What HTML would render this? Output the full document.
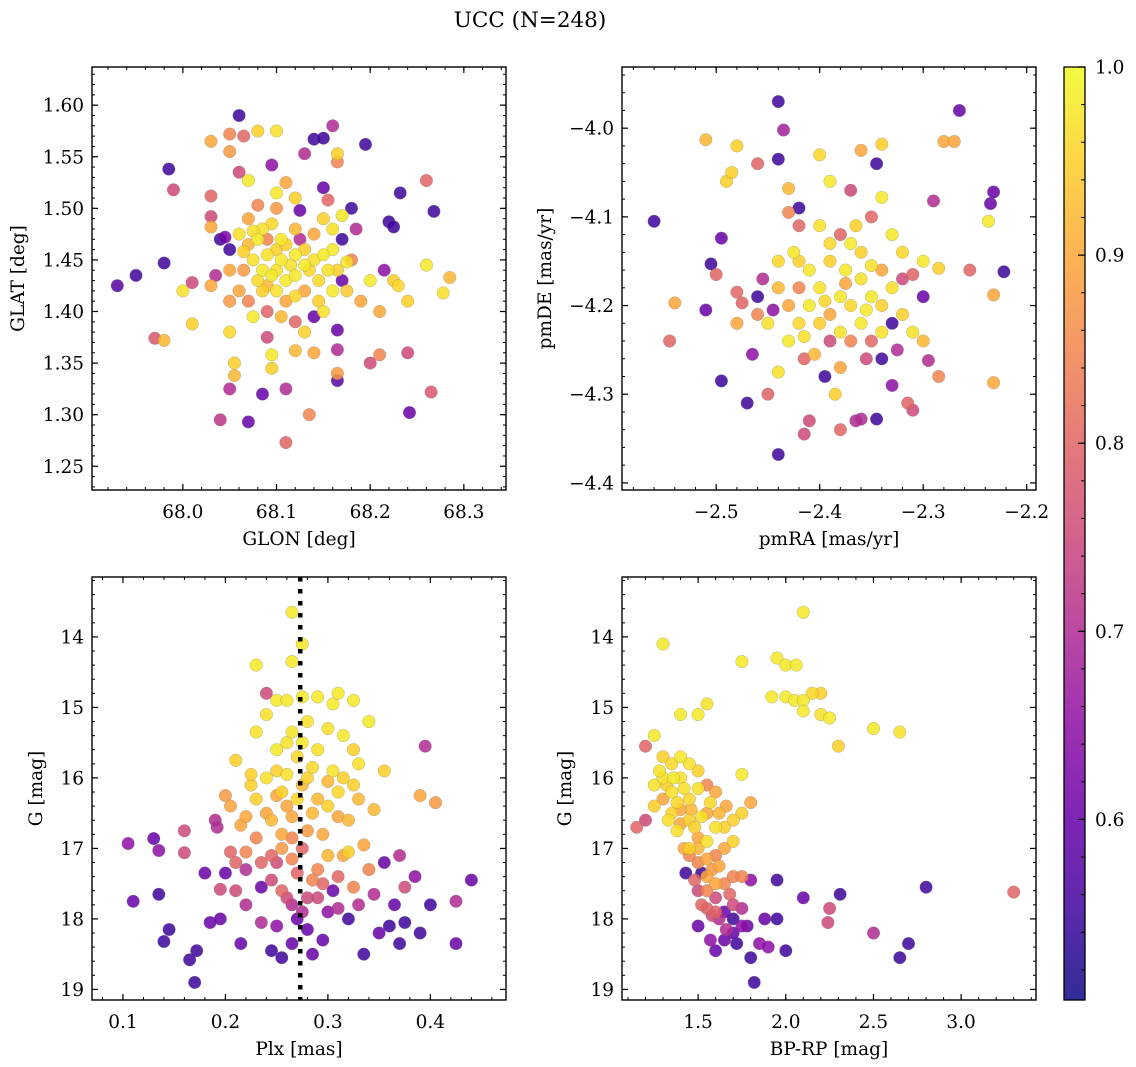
<!DOCTYPE html>
<html><head><meta charset="utf-8">
<style>
html,body{margin:0;padding:0;background:#fff;}
svg{display:block;font-family:"DejaVu Serif","Liberation Serif",serif;}
</style></head>
<body>
<svg id="fig" width="1136" height="1067" viewBox="0 0 1136 1067" xmlns="http://www.w3.org/2000/svg">
<defs>
<linearGradient id="plasma" x1="0" y1="1" x2="0" y2="0">
<stop offset="0" stop-color="#0d0887"/><stop offset="0.1" stop-color="#41049d"/><stop offset="0.2" stop-color="#6a00a8"/><stop offset="0.3" stop-color="#8f0da4"/><stop offset="0.4" stop-color="#b12a90"/><stop offset="0.5" stop-color="#cc4778"/><stop offset="0.6" stop-color="#e16462"/><stop offset="0.7" stop-color="#f2844b"/><stop offset="0.8" stop-color="#fca636"/><stop offset="0.9" stop-color="#fcce25"/><stop offset="1" stop-color="#f0f921"/>
</linearGradient>
</defs>
<text x="530" y="27" font-size="21.5" text-anchor="middle">UCC (N=248)</text>
</svg>
<script>
// ---- data: [x, y, membership probability] ----
const glonGlat = [
[67.93,1.425,0.58],[67.95,1.435,0.55],[67.98,1.447,0.55],[67.985,1.538,0.55],[67.99,1.518,0.75],[68.0,1.42,0.97],[68.01,1.428,0.75],[68.01,1.388,0.95],[67.97,1.374,0.78],[67.98,1.372,0.92],
[68.03,1.565,0.9],[68.03,1.512,0.8],[68.03,1.492,0.75],[68.03,1.482,0.9],[68.03,1.425,0.9],[68.035,1.435,0.7],[68.04,1.295,0.72],[68.04,1.47,0.55],[68.045,1.472,0.62],[68.05,1.572,0.85],
[68.05,1.555,0.88],[68.05,1.46,0.55],[68.05,1.44,0.9],[68.05,1.41,0.88],[68.05,1.38,0.96],[68.05,1.325,0.7],[68.055,1.35,0.95],[68.055,1.338,0.92],[68.06,1.59,0.55],[68.065,1.57,0.8],
[68.06,1.535,0.75],[68.07,1.527,0.98],[68.07,1.49,0.9],[68.07,1.465,0.92],[68.075,1.45,0.97],[68.075,1.395,0.98],[68.08,1.575,0.95],[68.08,1.503,0.85],[68.085,1.48,0.97],[68.085,1.44,0.98],
[68.09,1.425,0.92],[68.09,1.375,0.75],[68.095,1.358,0.98],[68.07,1.293,0.6],[68.085,1.32,0.6],[68.095,1.542,0.65],[68.1,1.575,0.97],[68.1,1.515,0.98],[68.1,1.46,0.95],[68.095,1.345,0.95],
[68.105,1.47,0.98],[68.11,1.43,0.98],[68.11,1.41,0.9],[68.11,1.273,0.8],[68.11,1.325,0.7],[68.12,1.362,0.92],[68.12,1.39,0.8],[68.125,1.47,0.7],[68.125,1.498,0.6],[68.13,1.553,0.7],
[68.135,1.44,0.96],[68.135,1.3,0.85],[68.14,1.395,0.6],[68.145,1.41,0.95],[68.14,1.567,0.55],[68.15,1.568,0.55],[68.15,1.52,0.6],[68.155,1.508,0.8],[68.16,1.48,0.97],[68.16,1.46,0.98],
[68.165,1.44,0.95],[68.17,1.43,0.6],[68.165,1.382,0.6],[68.165,1.363,0.7],[68.16,1.58,0.7],[68.165,1.545,0.85],[68.165,1.553,0.95],[68.17,1.493,0.98],[68.17,1.47,0.55],[68.175,1.448,0.97],
[68.175,1.42,0.94],[68.18,1.5,0.55],[68.185,1.48,0.7],[68.165,1.333,0.58],[68.165,1.34,0.88],[68.195,1.562,0.55],[68.21,1.4,0.9],[68.2,1.35,0.75],[68.21,1.358,0.85],[68.215,1.44,0.65],
[68.22,1.487,0.55],[68.225,1.482,0.55],[68.225,1.43,0.95],[68.232,1.515,0.55],[68.24,1.36,0.75],[68.242,1.302,0.6],[68.26,1.527,0.8],[68.26,1.445,0.98],[68.265,1.322,0.78],[68.268,1.497,0.55],
[68.278,1.418,0.97],[68.285,1.433,0.92],[68.24,1.41,0.95],[68.23,1.425,0.96],[68.2,1.43,0.98],[68.18,1.45,0.85],[68.19,1.41,0.9],
[68.06,1.475,0.97],[68.065,1.458,0.95],[68.08,1.47,0.98],[68.09,1.455,0.97],[68.095,1.485,0.96],[68.1,1.44,0.97],[68.105,1.45,0.98],[68.11,1.465,0.95],[68.115,1.445,0.97],[68.12,1.435,0.98],
[68.12,1.455,0.98],[68.13,1.445,0.98],[68.13,1.46,0.95],[68.14,1.45,0.97],[68.145,1.43,0.96],[68.15,1.455,0.98],[68.155,1.44,0.97],[68.14,1.475,0.9],[68.12,1.48,0.92],[68.1,1.5,0.88],
[68.09,1.47,0.85],[68.075,1.478,0.97],[68.065,1.44,0.88],[68.085,1.42,0.95],[68.1,1.42,0.97],[68.12,1.415,0.96],[68.13,1.42,0.9],[68.105,1.395,0.92],[68.13,1.38,0.95],[68.15,1.4,0.97],
[68.16,1.42,0.98],[68.06,1.42,0.9],[68.07,1.41,0.85],[68.09,1.4,0.8],[68.14,1.36,0.9],[68.12,1.51,0.95],[68.11,1.525,0.9],[68.15,1.49,0.95],[68.08,1.43,0.96],[68.095,1.435,0.98]
];
const pmraPmde = [
[-2.56,-4.105,0.55],[-2.545,-4.24,0.8],[-2.54,-4.197,0.9],[-2.51,-4.013,0.92],[-2.51,-4.205,0.6],[-2.505,-4.153,0.55],[-2.5,-4.165,0.8],[-2.495,-4.285,0.55],[-2.495,-4.124,0.6],[-2.49,-4.06,0.95],
[-2.485,-4.05,0.95],[-2.48,-4.02,0.95],[-2.48,-4.185,0.8],[-2.48,-4.22,0.9],[-2.475,-4.197,0.8],[-2.47,-4.31,0.55],[-2.465,-4.255,0.65],[-2.46,-4.19,0.55],[-2.46,-4.04,0.8],[-2.455,-4.17,0.7],
[-2.45,-4.3,0.8],[-2.445,-4.205,0.65],[-2.44,-3.97,0.55],[-2.44,-4.035,0.55],[-2.44,-4.275,0.97],[-2.44,-4.368,0.55],[-2.435,-4.002,0.68],[-2.43,-4.095,0.85],[-2.43,-4.068,0.92],[-2.425,-4.14,0.98],
[-2.42,-4.09,0.55],[-2.415,-4.26,0.8],[-2.41,-4.33,0.75],[-2.415,-4.345,0.75],[-2.4,-4.03,0.96],[-2.39,-4.06,0.98],[-2.395,-4.28,0.55],[-2.39,-4.24,0.75],[-2.385,-4.3,0.95],[-2.38,-4.34,0.8],
[-2.375,-4.16,0.98],[-2.37,-4.07,0.75],[-2.36,-4.025,0.9],[-2.365,-4.33,0.7],[-2.36,-4.328,0.7],[-2.345,-4.328,0.55],[-2.345,-4.04,0.55],[-2.34,-4.018,0.95],[-2.34,-4.078,0.98],[-2.34,-4.26,0.55],
[-2.33,-4.12,0.98],[-2.33,-4.22,0.55],[-2.32,-4.17,0.75],[-2.315,-4.31,0.8],[-2.31,-4.318,0.75],[-2.3,-4.15,0.98],[-2.3,-4.19,0.6],[-2.295,-4.262,0.7],[-2.29,-4.082,0.7],[-2.285,-4.158,0.95],
[-2.285,-4.28,0.85],[-2.28,-4.015,0.9],[-2.27,-4.015,0.9],[-2.265,-3.98,0.6],[-2.255,-4.16,0.8],[-2.235,-4.085,0.6],[-2.237,-4.105,0.98],[-2.232,-4.072,0.6],[-2.232,-4.188,0.9],[-2.232,-4.287,0.9],[-2.222,-4.162,0.55],
[-2.42,-4.15,0.95],[-2.41,-4.16,0.98],[-2.4,-4.18,0.97],[-2.39,-4.15,0.95],[-2.38,-4.19,0.98],[-2.37,-4.2,0.96],[-2.36,-4.17,0.97],[-2.35,-4.19,0.98],[-2.34,-4.2,0.95],[-2.33,-4.18,0.97],
[-2.43,-4.2,0.9],[-2.42,-4.22,0.96],[-2.41,-4.2,0.98],[-2.4,-4.22,0.95],[-2.39,-4.21,0.9],[-2.38,-4.23,0.97],[-2.37,-4.24,0.85],[-2.36,-4.22,0.98],[-2.35,-4.24,0.8],[-2.34,-4.23,0.97],
[-2.44,-4.18,0.92],[-2.45,-4.22,0.97],[-2.43,-4.24,0.98],[-2.42,-4.18,0.85],[-2.39,-4.13,0.96],[-2.38,-4.12,0.8],[-2.37,-4.13,0.98],[-2.36,-4.14,0.95],[-2.35,-4.155,0.97],[-2.34,-4.16,0.9],
[-2.32,-4.21,0.95],[-2.31,-4.23,0.97],[-2.325,-4.25,0.7],[-2.355,-4.26,0.75],[-2.405,-4.255,0.92],[-2.42,-4.11,0.8],[-2.4,-4.11,0.97],[-2.35,-4.1,0.8],[-2.32,-4.14,0.96],[-2.44,-4.15,0.96],
[-2.46,-4.21,0.85],[-2.31,-4.165,0.8],[-2.3,-4.24,0.92],[-2.33,-4.29,0.65],[-2.38,-4.27,0.9],[-2.395,-4.195,0.96],[-2.355,-4.205,0.98],[-2.375,-4.175,0.9],[-2.415,-4.235,0.97],[-2.365,-4.11,0.95]
];
const plxG = [
[0.105,16.93,0.65],[0.11,17.75,0.6],[0.13,16.86,0.6],[0.135,17.03,0.65],[0.135,17.65,0.55],[0.14,18.32,0.55],[0.145,18.15,0.55],[0.16,16.75,0.75],[0.16,17.06,0.75],[0.165,18.58,0.55],
[0.17,18.9,0.55],[0.172,18.45,0.55],[0.18,17.35,0.6],[0.185,18.05,0.6],[0.19,16.6,0.7],[0.192,16.7,0.7],[0.195,17.58,0.75],[0.195,18.0,0.6],[0.2,17.35,0.6],[0.2,16.25,0.88],
[0.205,16.4,0.9],[0.205,17.05,0.8],[0.21,17.6,0.75],[0.21,15.75,0.95],[0.215,16.67,0.9],[0.215,18.35,0.6],[0.22,17.3,0.7],[0.22,17.8,0.7],[0.225,16.1,0.95],[0.225,15.95,0.95],
[0.23,14.4,0.98],[0.23,15.35,0.97],[0.23,16.85,0.85],[0.235,17.55,0.6],[0.235,18.05,0.7],[0.24,14.8,0.75],[0.24,15.1,0.97],[0.24,16.5,0.9],[0.245,18.45,0.55],[0.245,17.1,0.8],
[0.25,14.9,0.98],[0.25,15.9,0.95],[0.25,16.25,0.9],[0.25,17.2,0.75],[0.255,18.55,0.55],[0.255,16.8,0.9],[0.26,14.9,0.98],[0.26,15.5,0.97],[0.26,17.7,0.75],[0.26,16.4,0.9],
[0.265,14.35,0.98],[0.265,13.65,0.98],[0.265,15.35,0.97],[0.265,16.85,0.85],[0.265,18.35,0.6],[0.27,17.35,0.8],[0.27,15.7,0.96],[0.275,14.1,0.98],[0.275,14.85,0.98],[0.275,16.1,0.92],
[0.275,17.0,0.8],[0.275,17.9,0.7],[0.28,15.2,0.97],[0.28,16.75,0.88],[0.285,18.5,0.6],[0.285,17.45,0.85],[0.285,15.85,0.96],[0.29,14.85,0.98],[0.29,16.3,0.92],[0.29,17.7,0.75],
[0.295,18.3,0.6],[0.3,15.3,0.97],[0.3,16.05,0.92],[0.3,17.1,0.92],[0.305,14.95,0.98],[0.305,17.6,0.6],[0.31,14.8,0.98],[0.31,16.55,0.9],[0.31,17.85,0.7],[0.315,16.0,0.95],
[0.32,18.0,0.55],[0.32,17.05,0.95],[0.325,14.9,0.98],[0.325,15.6,0.95],[0.325,17.55,0.85],[0.33,16.3,0.92],[0.335,18.5,0.55],[0.335,16.95,0.9],[0.34,15.2,0.98],[0.345,16.45,0.92],
[0.345,17.65,0.7],[0.35,18.2,0.6],[0.355,15.9,0.95],[0.355,17.2,0.6],[0.36,18.1,0.55],[0.365,17.8,0.6],[0.37,17.1,0.7],[0.37,18.35,0.55],[0.375,18.05,0.55],[0.375,17.55,0.75],
[0.385,17.4,0.65],[0.39,18.2,0.55],[0.39,16.25,0.9],[0.395,15.55,0.7],[0.4,17.8,0.55],[0.405,16.35,0.88],[0.425,18.35,0.6],[0.425,17.75,0.7],[0.44,17.45,0.6],
[0.23,16.3,0.95],[0.24,16.0,0.97],[0.245,16.6,0.92],[0.25,15.6,0.98],[0.255,16.2,0.95],[0.26,15.95,0.97],[0.265,16.55,0.9],[0.27,16.3,0.96],[0.275,15.5,0.98],[0.28,16.0,0.95],
[0.285,16.5,0.92],[0.29,15.6,0.97],[0.295,16.8,0.9],[0.3,16.4,0.95],[0.305,15.9,0.97],[0.31,16.2,0.96],[0.315,15.4,0.98],[0.32,16.6,0.92],[0.325,16.1,0.95],[0.33,15.8,0.97],
[0.235,17.2,0.8],[0.245,17.45,0.75],[0.255,17.6,0.8],[0.265,17.8,0.7],[0.27,18.0,0.6],[0.28,17.7,0.75],[0.29,17.3,0.85],[0.3,17.9,0.65],[0.31,17.4,0.8],[0.22,17.05,0.85],
[0.21,17.2,0.8],[0.255,17.0,0.88],[0.265,17.15,0.85],[0.295,17.5,0.8],[0.315,17.1,0.9],[0.34,17.3,0.85],[0.25,18.1,0.65],[0.28,18.15,0.6],[0.33,17.8,0.7],[0.22,16.55,0.9]
];
const bprpG = [
[1.3,14.1,0.98],[1.4,15.1,0.98],[1.5,15.1,0.98],[1.55,14.95,0.97],[1.75,14.35,0.98],[1.95,14.3,0.98],[2.0,14.4,0.98],[2.1,13.65,0.98],[2.06,14.4,0.98],[1.92,14.85,0.98],
[2.0,14.85,0.98],[2.05,14.9,0.98],[2.1,14.9,0.98],[2.15,14.8,0.96],[2.1,15.05,0.98],[2.2,14.8,0.95],[2.2,15.1,0.97],[2.25,15.15,0.98],[2.3,15.55,0.95],[2.5,15.3,0.98],
[2.65,15.35,0.97],[1.25,15.4,0.98],[1.2,15.55,0.8],[1.75,15.95,0.98],[1.8,16.35,0.9],[1.75,16.5,0.95],
[1.15,16.7,0.8],[1.2,16.6,0.75],[1.25,16.1,0.97],[1.25,16.4,0.95],[1.3,15.7,0.95],[1.3,16.0,0.97],[1.3,16.3,0.9],[1.35,15.8,0.96],[1.35,16.2,0.97],[1.35,16.5,0.95],
[1.38,16.75,0.97],[1.4,15.7,0.98],[1.4,16.0,0.97],[1.4,16.45,0.9],[1.42,17.0,0.9],[1.45,15.8,0.97],[1.45,16.3,0.96],[1.45,16.6,0.95],[1.43,17.35,0.55],[1.5,15.9,0.95],
[1.5,16.15,0.97],[1.5,16.85,0.9],[1.5,17.2,0.85],[1.5,17.6,0.75],[1.5,18.1,0.6],[1.52,17.35,0.55],[1.55,16.1,0.85],[1.55,16.5,0.9],[1.55,16.9,0.97],[1.55,17.4,0.9],
[1.55,17.85,0.8],[1.57,18.3,0.65],[1.6,16.2,0.9],[1.6,16.7,0.97],[1.6,17.1,0.85],[1.6,17.5,0.9],[1.6,17.9,0.8],[1.6,18.45,0.6],[1.65,16.7,0.95],[1.65,17.0,0.9],
[1.65,17.5,0.85],[1.65,17.9,0.6],[1.65,18.3,0.6],[1.7,16.9,0.95],[1.7,17.4,0.85],[1.7,17.8,0.75],[1.7,18.0,0.55],[1.72,18.35,0.55],[1.75,17.4,0.85],[1.75,17.85,0.7],
[1.78,18.1,0.6],[1.8,17.45,0.65],[1.8,18.55,0.55],[1.82,18.9,0.55],[1.85,18.35,0.65],[1.88,18.0,0.6],[1.9,18.4,0.65],[1.95,17.45,0.55],[1.95,18.0,0.55],[2.0,18.45,0.55],
[2.1,17.7,0.6],[2.25,17.85,0.75],[2.24,18.05,0.75],[2.31,17.65,0.55],[2.5,18.2,0.7],[2.65,18.55,0.55],[2.7,18.35,0.55],[2.8,17.55,0.55],[3.3,17.62,0.8],
[1.28,15.9,0.97],[1.32,16.1,0.95],[1.36,16.0,0.98],[1.38,16.35,0.96],[1.42,16.15,0.97],[1.46,16.45,0.92],[1.48,16.7,0.95],[1.52,16.55,0.97],[1.4,16.65,0.9],[1.33,16.6,0.97],
[1.45,17.0,0.95],[1.5,17.0,0.92],[1.55,17.15,0.9],[1.58,17.3,0.88],[1.62,17.25,0.9],[1.45,17.1,0.85],[1.48,17.45,0.8],[1.55,17.6,0.85],[1.6,17.7,0.75],[1.62,18.0,0.7],
[1.66,18.15,0.7],[1.7,18.2,0.6],[1.75,18.1,0.65],[1.68,17.65,0.8],[1.58,17.95,0.75],[1.52,17.8,0.8],[1.57,16.35,0.96],[1.62,16.5,0.92],[1.66,16.4,0.9],[1.7,16.6,0.95]
];
const ucTicksGlon=[68.0,68.1,68.2,68.3], ucTicksGlat=[1.25,1.30,1.35,1.40,1.45,1.50,1.55,1.60];
const ticksPmra=[-2.5,-2.4,-2.3,-2.2], ticksPmde=[-4.4,-4.3,-4.2,-4.1,-4.0];
const ticksPlx=[0.1,0.2,0.3,0.4], ticksG=[14,15,16,17,18,19];
const ticksBprp=[1.5,2.0,2.5,3.0], ticksCbar=[0.6,0.7,0.8,0.9,1.0];
const plxLine = 0.273;

const NS="http://www.w3.org/2000/svg";
const svg=document.getElementById('fig');
const FS=18.5;
function mk(tag,attrs,parent){const e=document.createElementNS(NS,tag);for(const k in attrs)e.setAttribute(k,attrs[k]);(parent||svg).appendChild(e);return e;}
const stops=[[0,[13,8,135]],[0.1,[65,4,157]],[0.2,[106,0,168]],[0.3,[143,13,164]],[0.4,[177,42,144]],[0.5,[204,71,120]],[0.6,[225,100,98]],[0.7,[242,132,75]],[0.8,[252,166,54]],[0.9,[252,206,37]],[1,[240,249,33]]];
const cmin=0.504,cmax=1.0;
function cmap(v){let t=Math.max(0,Math.min(1,(v-cmin)/(cmax-cmin)));for(let i=1;i<stops.length;i++){if(t<=stops[i][0]){const a=stops[i-1],b=stops[i];const f=(t-a[0])/(b[0]-a[0]);const c=a[1].map((x,j)=>Math.round(x+(b[1][j]-x)*f));return `rgb(${c[0]},${c[1]},${c[2]})`;}}return 'rgb(240,249,33)';}
function fmt(v,d){return (v<0?'\u2212':'')+Math.abs(v).toFixed(d);}

function panel(o){
  const g=mk('g',{});
  
  
  const sx=v=>o.L+(v-o.x0)/(o.x1-o.x0)*(o.R-o.L);
  const sy=v=>o.B-(v-o.y0)/(o.y1-o.y0)*(o.B-o.T);
  const pts=o.data.slice().sort((a,b)=>a[2]-b[2]);
  pts.forEach(p=>{
    const c=mk('circle',{cx:sx(p[0]).toFixed(1),cy:sy(p[1]).toFixed(1),r:6.3,fill:cmap(p[2]),'fill-opacity':0.85,stroke:'#777','stroke-opacity':0.5,'stroke-width':0.5},g);
    
    
  });
  if(o.vline!==undefined){
    const l=mk('line',{x1:sx(o.vline),x2:sx(o.vline),y1:o.T,y2:o.B,stroke:'#000','stroke-width':4.5,'stroke-dasharray':'4.5,7.5'},g);
    
    
  }
  const xa=Math.min(o.x0,o.x1),xb=Math.max(o.x0,o.x1),ya=Math.min(o.y0,o.y1),yb=Math.max(o.y0,o.y1);
  for(let k=Math.ceil(xa/o.xm-1e-6);k*o.xm<=xb+1e-9;k++){const x=sx(k*o.xm);mk('line',{x1:x,x2:x,y1:o.B,y2:o.B-3,stroke:'#000','stroke-width':1},g);mk('line',{x1:x,x2:x,y1:o.T,y2:o.T+3,stroke:'#000','stroke-width':1},g);}
  for(let k=Math.ceil(ya/o.ym-1e-6);k*o.ym<=yb+1e-9;k++){const y=sy(k*o.ym);mk('line',{x1:o.L,x2:o.L+3,y1:y,y2:y,stroke:'#000','stroke-width':1},g);mk('line',{x1:o.R,x2:o.R-3,y1:y,y2:y,stroke:'#000','stroke-width':1},g);}
  o.xt.forEach(v=>{const x=sx(v);mk('line',{x1:x,x2:x,y1:o.B,y2:o.B-6,stroke:'#000','stroke-width':1.2},g);mk('line',{x1:x,x2:x,y1:o.T,y2:o.T+6,stroke:'#000','stroke-width':1.2},g);
    const t=mk('text',{x:x,y:o.B+28,'font-size':FS,'text-anchor':'middle'},g);t.textContent=fmt(v,o.xd);
    
    });
  o.yt.forEach(v=>{const y=sy(v);mk('line',{x1:o.L,x2:o.L+6,y1:y,y2:y,stroke:'#000','stroke-width':1.2},g);mk('line',{x1:o.R,x2:o.R-6,y1:y,y2:y,stroke:'#000','stroke-width':1.2},g);
    const t=mk('text',{x:o.L-8,y:y+6.5,'font-size':FS,'text-anchor':'end'},g);t.textContent=fmt(v,o.yd);
    
    });
  const fr=mk('rect',{x:o.L,y:o.T,width:o.R-o.L,height:o.B-o.T,fill:'none',stroke:'#000','stroke-width':1.4},g);
  
  
  const xl=mk('text',{x:(o.L+o.R)/2,y:o.B+55,'font-size':FS,'text-anchor':'middle'},g);xl.textContent=o.xlabel;
  
  
  const yx=o.ylx,yy=(o.T+o.B)/2;
  const yl=mk('text',{x:yx,y:yy,'font-size':FS,'text-anchor':'middle',transform:`rotate(-90 ${yx} ${yy})`},g);yl.textContent=o.ylabel;
  
  
}
panel({name:'glon-glat-panel',data:glonGlat,L:92,R:506,T:67,B:490,x0:67.903,x1:68.345,y0:1.227,y1:1.637,xm:0.02,ym:0.01,xt:ucTicksGlon,yt:ucTicksGlat,xd:1,yd:2,xlabel:'GLON [deg]',ylabel:'GLAT [deg]',ylx:24});
panel({name:'pm-panel',data:pmraPmde,L:622,R:1036,T:67,B:490,x0:-2.591,x1:-2.191,y0:-4.408,y1:-3.931,xm:0.02,ym:0.02,xt:ticksPmra,yt:ticksPmde,xd:1,yd:1,xlabel:'pmRA [mas/yr]',ylabel:'pmDE [mas/yr]',ylx:551});
panel({name:'plx-g-panel',data:plxG,L:92,R:506,T:577,B:1000,x0:0.0698,x1:0.4738,y0:19.15,y1:13.15,xm:0.02,ym:0.2,xt:ticksPlx,yt:ticksG,xd:1,yd:0,xlabel:'Plx [mas]',ylabel:'G [mag]',ylx:42,vline:plxLine});
panel({name:'cmd-panel',data:bprpG,L:622,R:1036,T:577,B:1000,x0:1.066,x1:3.427,y0:19.15,y1:13.15,xm:0.1,ym:0.2,xt:ticksBprp,yt:ticksG,xd:1,yd:0,xlabel:'BP-RP [mag]',ylabel:'G [mag]',ylx:571});

// colorbar
const cb=mk('g',{});


const cbT=67,cbB=1000,cbL=1064,cbR=1085;
mk('rect',{x:cbL,y:cbT,width:cbR-cbL,height:cbB-cbT,fill:'url(#plasma)','fill-opacity':0.85},cb);
mk('rect',{x:cbL,y:cbT,width:cbR-cbL,height:cbB-cbT,fill:'none',stroke:'#000','stroke-width':1.3},cb);
const cy=v=>cbB-(v-cmin)/(cmax-cmin)*(cbB-cbT);
for(let v=0.52;v<=1.0001;v+=0.02){mk('line',{x1:cbR,x2:cbR-4,y1:cy(v),y2:cy(v),stroke:'#000','stroke-width':1},cb);}
ticksCbar.forEach(v=>{mk('line',{x1:cbR,x2:cbR-7,y1:cy(v),y2:cy(v),stroke:'#000','stroke-width':1.2},cb);
  const t=mk('text',{x:cbR+10,y:cy(v)+6.5,'font-size':FS},cb);t.textContent=v.toFixed(1);
  
  });
</script>
</body></html>
